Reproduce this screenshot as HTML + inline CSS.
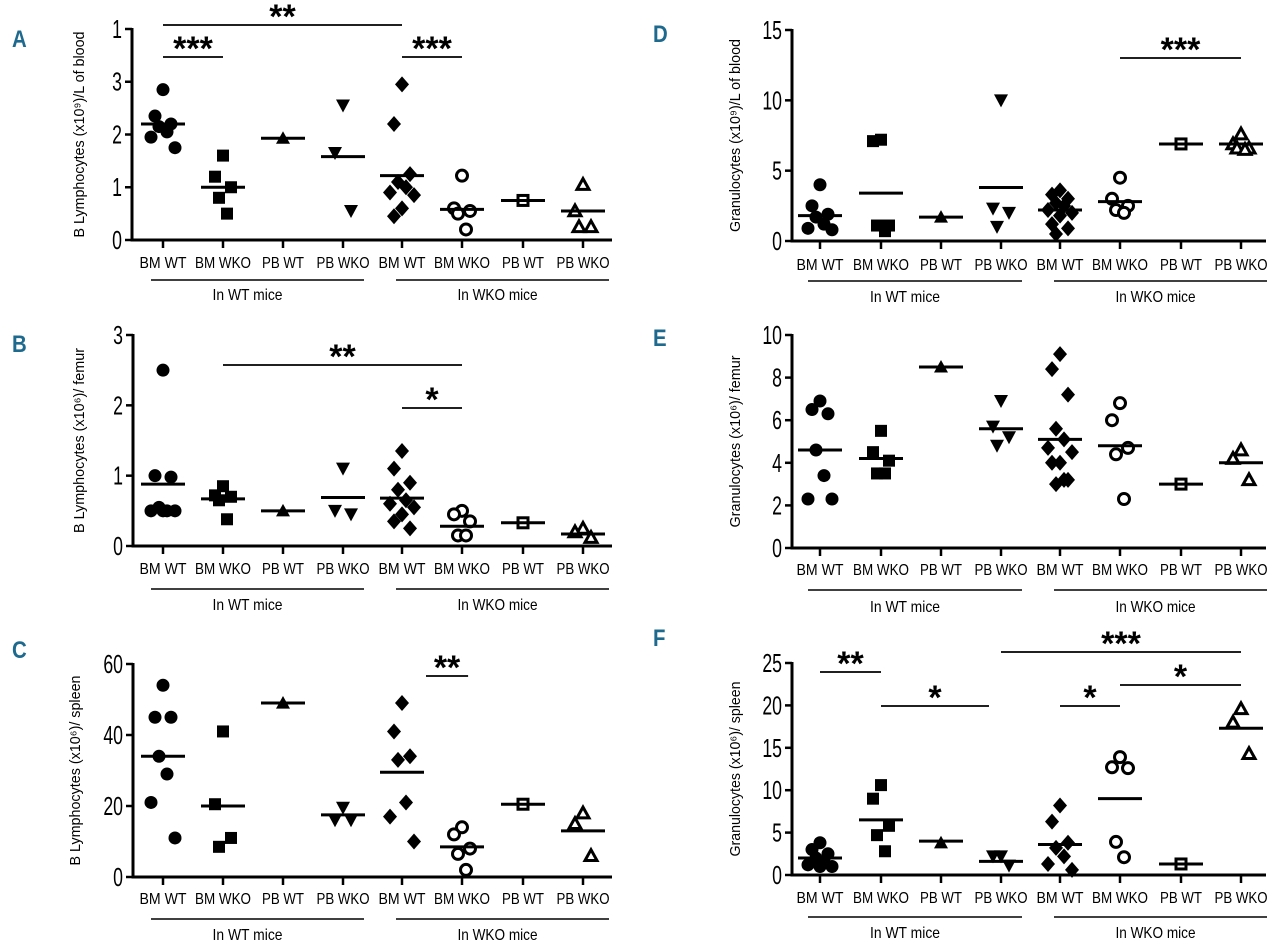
<!DOCTYPE html>
<html><head><meta charset="utf-8"><style>
html,body{margin:0;padding:0;background:#fff;}
svg{display:block;}
text{font-family:"Liberation Sans Narrow","Liberation Sans",sans-serif;}
</style></head><body>
<svg id="fig" width="1280" height="950" viewBox="0 0 1280 950" xmlns="http://www.w3.org/2000/svg"></svg>
<script>
// ---- data ----
const categories = ["BM WT","BM WKO","PB WT","PB WKO","BM WT","BM WKO","PB WT","PB WKO"];
const groupLabels = ["In WT mice","In WKO mice"];

const valuesA = [[2.85,2.35,2.2,2.15,2.05,1.95,1.75],[1.6,1.2,1.0,0.8,0.5],[1.93],[2.55,1.65,0.55],[2.95,2.2,1.25,1.1,1.0,0.9,0.85,0.6,0.45],[1.22,0.6,0.55,0.5,0.2],[0.75],[1.05,0.55,0.25,0.25]];
const meansA = [2.2,1.0,1.93,1.58,1.22,0.58,0.75,0.55];
const valuesB = [[2.5,1.0,0.98,0.55,0.5,0.5,0.5,0.5],[0.85,0.72,0.7,0.65,0.38],[0.5],[1.1,0.5,0.45],[1.35,1.1,0.9,0.8,0.65,0.6,0.55,0.45,0.35,0.25],[0.5,0.45,0.35,0.15,0.15],[0.33],[0.25,0.2,0.12]];
const meansB = [0.88,0.67,0.5,0.69,0.68,0.28,0.33,0.17];
const valuesC = [[54,45,45,34,29,21,11],[41,20.5,11,8.5],[49],[19.5,16,16],[49,41,34,33,21,17,10],[14,12,8,6.5,2],[20.5],[18,15,6]];
const meansC = [34,20,49,17.5,29.5,8.5,20.5,13];
const valuesD = [[4.0,2.5,1.9,1.7,1.2,0.9,0.8],[7.2,7.1,1.1,1.1,0.7],[1.7],[10,2.3,2.0,1.0],[3.6,3.3,3.0,2.7,2.5,2.2,2.0,1.8,1.2,0.9,0.5],[4.5,3.0,2.5,2.2,2.0],[6.9],[7.6,6.9,6.6,6.6,6.5]];
const meansD = [1.8,3.4,1.7,3.8,2.2,2.8,6.9,6.9];
const valuesE = [[6.9,6.5,6.3,4.6,3.4,2.3,2.3],[5.5,4.5,4.1,3.5,3.5],[8.5],[6.9,5.7,5.2,4.8],[9.1,8.4,7.2,5.6,5.1,4.7,4.5,4.0,4.0,3.2,3.0,3.2],[6.8,6.0,4.7,4.4,2.3],[3.0],[4.6,4.2,3.2]];
const meansE = [4.6,4.2,8.5,5.6,5.1,4.8,3.0,4.0];
const valuesF = [[3.8,3.0,2.5,2.0,1.5,1.2,1.0,1.0],[10.6,9.0,5.8,4.7,2.8],[3.8],[2.2,2.2,1.1],[8.2,6.3,3.8,3.2,2.2,1.3,0.6],[13.9,12.7,12.6,3.9,2.1],[1.3],[19.6,18.0,14.3]];
const meansF = [2.0,6.5,4.0,1.6,3.6,9.0,1.3,17.3];

const ticksA = [0,1,2,3,4], tickLabelsA = ["0","1","2","3","1"];
const ticksB = [0,1,2,3], tickLabelsB = ["0","1","2","3"];
const ticksC = [0,20,40,60], tickLabelsC = ["0","20","40","60"];
const ticksD = [0,5,10,15], tickLabelsD = ["0","5","10","15"];
const ticksE = [0,2,4,6,8,10], tickLabelsE = ["0","2","4","6","8","10"];
const ticksF = [0,5,10,15,20,25], tickLabelsF = ["0","5","10","15","20","25"];

// significance brackets: [fromCat, toCat, label, level]
const sigA = [[0,4,"**",0],[0,1,"***",1],[4,5,"***",1]];
const sigB = [[1,5,"**",0],[4,5,"*",1]];
const sigC = [[4.4,5.1,"**",0]];
const sigD = [[5,7,"***",0]];
const sigE = [];
const sigF = [[0,1,"**",1],[1,2.8,"*",3],[3,7.1,"***",0],[4,5,"*",3],[5,7,"*",2]];

// ---- layout ----
const NS="http://www.w3.org/2000/svg";
const svg=document.getElementById('fig');
function mk(tag,attrs,parent){const e=document.createElementNS(NS,tag);for(const k in attrs)e.setAttribute(k,attrs[k]);(parent||svg).appendChild(e);return e;}
const leftX=[163,223,283,343,402,462,523,583];
const rightX=[820,881,941,1001,1060,1120,1181,1241];
const catLen={"BM WT":47,"BM WKO":56,"PB WT":42,"PB WKO":53};
const BLUE="#1e6a8e";

const panels=[
 {id:"a",letter:"A",lx:12,ly:47,ax:132,axEnd:612,y0:240,yTop:29,ymax:4,ticks:ticksA,tl:tickLabelsA,vals:valuesA,means:meansA,cx:leftX,title:"B Lymphocytes (x10⁹)/L of blood",tx:84,tlen:206,labY:268,gY:280,gLab:300,gl:[[151,364],[396,609]],sig:sigA,sigY:[25,57,0,0]},
 {id:"b",letter:"B",lx:12,ly:352,ax:133,axEnd:612,y0:546,yTop:335,ymax:3,ticks:ticksB,tl:tickLabelsB,vals:valuesB,means:meansB,cx:leftX,title:"B Lymphocytes (x10⁶)/ femur",tx:84,tlen:185,labY:574,gY:589,gLab:610,gl:[[151,364],[396,609]],sig:sigB,sigY:[365,408]},
 {id:"c",letter:"C",lx:12,ly:658,ax:133,axEnd:612,y0:877,yTop:664,ymax:60,ticks:ticksC,tl:tickLabelsC,vals:valuesC,means:meansC,cx:leftX,title:"B Lymphocytes (x10⁶)/ spleen",tx:80,tlen:190,labY:904,gY:919,gLab:940,gl:[[151,364],[396,609]],sig:sigC,sigY:[676]},
 {id:"d",letter:"D",lx:653,ly:42,ax:792,axEnd:1266,y0:241,yTop:30,ymax:15,ticks:ticksD,tl:tickLabelsD,vals:valuesD,means:meansD,cx:rightX,title:"Granulocytes (x10⁹)/L of blood",tx:740,tlen:193,labY:270,gY:281,gLab:302,gl:[[808,1022],[1054,1267]],sig:sigD,sigY:[58]},
 {id:"e",letter:"E",lx:653,ly:346,ax:792,axEnd:1266,y0:548,yTop:335,ymax:10,ticks:ticksE,tl:tickLabelsE,vals:valuesE,means:meansE,cx:rightX,title:"Granulocytes (x10⁶)/ femur",tx:740,tlen:172,labY:575,gY:590,gLab:612,gl:[[808,1022],[1054,1267]],sig:sigE,sigY:[]},
 {id:"f",letter:"F",lx:653,ly:646,ax:792,axEnd:1266,y0:875,yTop:663,ymax:25,ticks:ticksF,tl:tickLabelsF,vals:valuesF,means:meansF,cx:rightX,title:"Granulocytes (x10⁶)/ spleen",tx:740,tlen:175,labY:903,gY:917,gLab:938,gl:[[808,1022],[1054,1267]],sig:sigF,sigY:[652,672,685,706]}
];
const jit=[0,-1,1,-0.5,0.5,-1.5,1.5,0,-1,1,-0.5,0.5];

function marker(g,type,x,y){
  const r=6.5;let el;
  const fill=type<5?"#000":"#fff";const sw=type<5?0:3;
  if(type===0||type===5){el=mk('circle',{cx:x,cy:y,r:type===5?5.5:r,fill:fill,stroke:"#000","stroke-width":sw},g);}
  else if(type===1||type===6){const s=type===6?10:12;el=mk('rect',{x:x-s/2,y:y-s/2,width:s,height:s,fill:fill,stroke:"#000","stroke-width":sw},g);}
  else if(type===2||type===7){const h=type===7?6:7;el=mk('polygon',{points:`${x},${y-h} ${x+h},${y+h*0.8} ${x-h},${y+h*0.8}`,fill:fill,stroke:"#000","stroke-width":sw,"stroke-linejoin":"miter"},g);}
  else if(type===3){el=mk('polygon',{points:`${x-7},${y-6} ${x+7},${y-6} ${x},${y+7}`,fill:fill},g);}
  else {el=mk('polygon',{points:`${x},${y-8} ${x+7},${y} ${x},${y+8} ${x-7},${y}`,fill:fill},g);}
  return el;
}

panels.forEach(p=>{
  const g=mk('g',{});
  
  
  const ys=v=>p.y0-(v/p.ymax)*(p.y0-p.yTop);
  const L=mk('text',{x:p.lx,y:p.ly,"font-size":24,"font-weight":"bold",fill:BLUE,transform:`translate(${p.lx} 0) scale(0.85 1) translate(${-p.lx} 0)`},g);L.textContent=p.letter;
  
  
  const ya=mk('line',{x1:p.ax,y1:p.yTop-1,x2:p.ax,y2:p.y0+1.5,stroke:"#000","stroke-width":3},g);
  
  
  const xa=mk('line',{x1:p.ax-1.5,y1:p.y0,x2:p.axEnd,y2:p.y0,stroke:"#000","stroke-width":3},g);
  
  
  p.ticks.forEach((t,i)=>{
    const y=ys(t);
    mk('line',{x1:p.ax-7,y1:y,x2:p.ax,y2:y,stroke:"#000","stroke-width":2.5},g);
    const tx=p.ax-10;
    const tt=mk('text',{x:tx,y:y+9,"font-size":26,"text-anchor":"end",transform:`translate(${tx} 0) scale(0.68 1) translate(${-tx} 0)`},g);tt.textContent=p.tl[i];
    
    
  });
  const ti=mk('text',{x:p.tx,y:(p.y0+p.yTop)/2,"font-size":15,"text-anchor":"middle",transform:`rotate(-90 ${p.tx} ${(p.y0+p.yTop)/2})`,textLength:p.tlen,lengthAdjust:"spacingAndGlyphs"},g);
  ti.textContent=p.title;
  
  
  categories.forEach((c,i)=>{
    const x=p.cx[i];
    mk('line',{x1:x,y1:p.y0,x2:x,y2:p.y0+8,stroke:"#000","stroke-width":2.5},g);
    const ct=mk('text',{x:x,y:p.labY,"font-size":16,"text-anchor":"middle",textLength:catLen[c],lengthAdjust:"spacingAndGlyphs"},g);ct.textContent=c;
    
    
    const vals=p.vals[i];
    vals.forEach((v,k)=>{
      const m=marker(g,i,x+(vals.length>1?jit[k]*8:0),ys(v));
      
      
    });
    const ml=mk('line',{x1:x-22,y1:ys(p.means[i]),x2:x+22,y2:ys(p.means[i]),stroke:"#000","stroke-width":3},g);
    
    
  });
  p.gl.forEach((r,j)=>{
    const gl=mk('line',{x1:r[0],y1:p.gY,x2:r[1],y2:p.gY,stroke:"#000","stroke-width":1.5},g);
    
    
    const gt=mk('text',{x:(r[0]+r[1])/2+(j?-5:-10),y:p.gLab,"font-size":16,"text-anchor":"middle",textLength:j?80:70,lengthAdjust:"spacingAndGlyphs"},g);gt.textContent=groupLabels[j];
    
    
  });
  p.sig.forEach(s=>{
    const interp=c=>{const a=Math.floor(c),b=Math.min(a+1,7),f=c-a;return p.cx[a]+(p.cx[b]-p.cx[a])*f;};
    const x1=interp(s[0]),x2=interp(s[1]),y=p.sigY[s[3]];
    const sl=mk('line',{x1:x1,y1:y,x2:x2,y2:y,stroke:"#000","stroke-width":1.8},g);
    
    
    const st=mk('text',{x:(x1+x2)/2,y:y+3,"font-size":34,"font-weight":"bold","text-anchor":"middle","font-family":"Liberation Sans, sans-serif"},g);st.textContent=s[2];
    
    
  });
});
</script>
</body></html>
